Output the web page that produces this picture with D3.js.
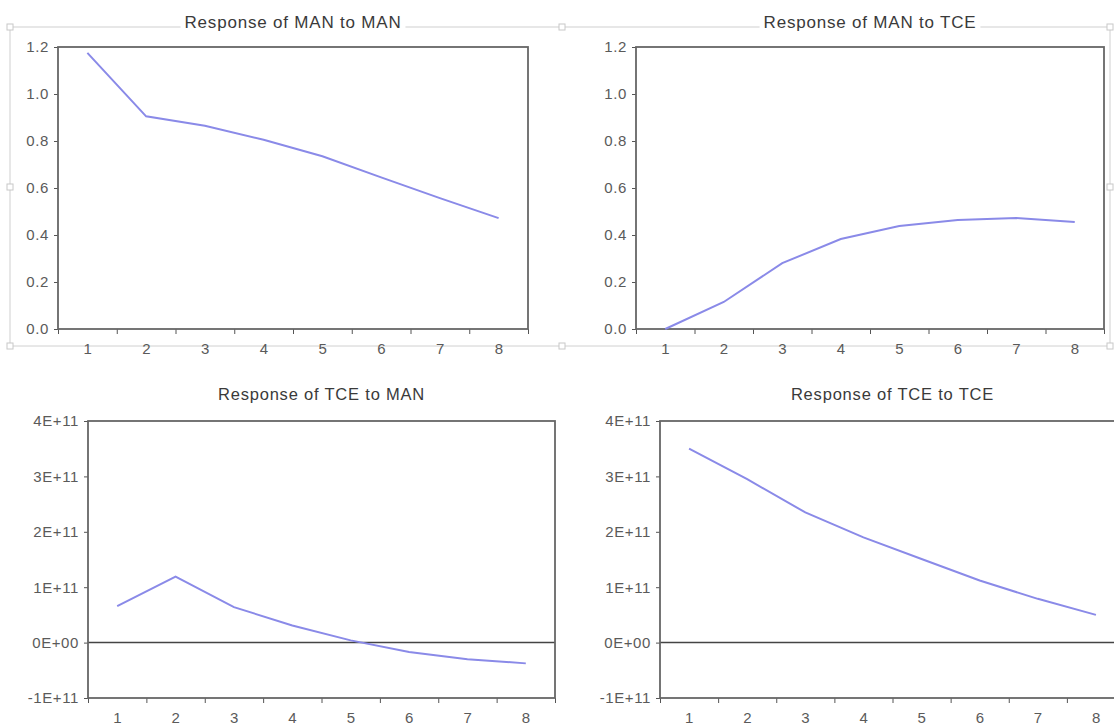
<!DOCTYPE html>
<html lang="en">
<head>
  <meta charset="UTF-8">
  <title>Impulse responses</title>
  <script src="https://cdn.jsdelivr.net/npm/d3@7"></script>
  <style>
    html, body { margin: 0; padding: 0; background: #ffffff; }
    .tick text { font-family: "Liberation Sans", Arial, sans-serif; font-size: 15px; letter-spacing: 0.6px; fill: #5a5a5a; }
    .title { font-family: "Liberation Sans", Arial, sans-serif; fill: #3a3a3a; }
  </style>
</head>
<body>
  <div class="chart"></div>

  <script type="text/javascript">
    // periods on the x axis
    const periods = [1, 2, 3, 4, 5, 6, 7, 8];

    // responses
    const manToMan = [1.175, 0.905, 0.865, 0.805, 0.735, 0.645, 0.557, 0.472];
    const manToTce = [0.0, 0.115, 0.28, 0.383, 0.438, 0.464, 0.472, 0.455];
    const tceToMan = [0.66e11, 1.19e11, 0.64e11, 0.31e11, 0.04e11, -0.17e11, -0.30e11, -0.375e11];
    const tceToTce = [3.50e11, 2.95e11, 2.35e11, 1.90e11, 1.51e11, 1.12e11, 0.79e11, 0.50e11];

    // tick labels
    const manTicks = [0, 0.2, 0.4, 0.6, 0.8, 1.0, 1.2];
    const tceTicks = [-1e11, 0, 1e11, 2e11, 3e11, 4e11];

    const titles = ["Response of MAN to MAN", "Response of MAN to TCE", "Response of TCE to MAN", "Response of TCE to TCE"];

    const svg = d3
      .select(".chart")
      .append("svg")
      .attr("width", 1114)
      .attr("height", 727);

    //outer frame with handles around the top pair
    const frame = svg.append("g");
    frame.append("rect")
      .attr("x", 10).attr("y", 27)
      .attr("width", 1100).attr("height", 319)
      .attr("fill", "none")
      .attr("stroke", "#d0d0d0")
      .attr("stroke-width", 1);
    const handles = [[10, 27], [562, 27], [1110, 27], [10, 187], [1110, 187], [10, 346], [562, 346], [1110, 346]];
    frame.selectAll(".handle")
      .data(handles)
      .enter()
      .append("rect")
      .attr("class", "handle")
      .attr("x", d => d[0] - 3)
      .attr("y", d => d[1] - 3)
      .attr("width", 6)
      .attr("height", 6)
      .attr("fill", "#fff")
      .attr("stroke", "#c8c8c8");

    const fmtMan = d3.format(".1f");
    function fmtTce(v) {
      if (v === 0) return "0E+00";
      return Math.round(v / 1e11) + "E+11";
    }

    const panels = [
      { left: 58, right: 528, top: 47, bottom: 329, titleY: 22, titleSize: 17, values: manToMan, domain: [0, 1.2], ticks: manTicks, fmt: fmtMan, zero: false },
      { left: 636, right: 1104, top: 47, bottom: 329, titleY: 22, titleSize: 17, values: manToTce, domain: [0, 1.2], ticks: manTicks, fmt: fmtMan, zero: false },
      { left: 88, right: 555, top: 421, bottom: 698, titleY: 394, titleSize: 16.5, values: tceToMan, domain: [-1e11, 4e11], ticks: tceTicks, fmt: fmtTce, zero: true },
      { left: 660, right: 1125, top: 421, bottom: 698, titleY: 394, titleSize: 16.5, values: tceToTce, domain: [-1e11, 4e11], ticks: tceTicks, fmt: fmtTce, zero: true }
    ];

    panels.forEach(function(p, i) {
      const g = svg.append("g");

      const x = d3.scaleLinear()
        .domain([0.5, periods.length + 0.5])
        .range([p.left, p.right]);
      const y = d3.scaleLinear()
        .domain(p.domain)
        .range([p.bottom, p.top]);

      //title with white backing so the outer frame line breaks
      const title = g.append("text")
        .attr("class", "title")
        .attr("x", (p.left + p.right) / 2)
        .attr("y", p.titleY)
        .attr("dy", "0.35em")
        .style("font-size", p.titleSize + "px")
        .style("letter-spacing", "0.8px")
        .style("text-anchor", "middle")
        .text(titles[i]);
      const bb = title.node().getBBox();
      g.insert("rect", "text")
        .attr("x", bb.x - 4).attr("y", bb.y)
        .attr("width", bb.width + 8).attr("height", bb.height)
        .attr("fill", "#fff");

      //y axis
      const yAxis = g.append("g")
        .attr("transform", `translate(${p.left},0)`)
        .call(d3.axisLeft(y).tickValues(p.ticks).tickSize(4).tickPadding(5).tickFormat(p.fmt));
      yAxis.select(".domain").remove();
      yAxis.selectAll("line").attr("stroke", "#555");

      //x axis tick marks between periods
      const edges = d3.range(0.5, periods.length + 1, 1);
      const xTicks = g.append("g")
        .attr("transform", `translate(0,${p.bottom})`)
        .call(d3.axisBottom(x).tickValues(edges).tickSize(5).tickFormat(""));
      xTicks.select(".domain").remove();
      xTicks.selectAll("line").attr("stroke", "#555");

      //x labels at the centre of each period
      const xLabels = g.append("g")
        .attr("transform", `translate(0,${p.bottom})`)
        .call(d3.axisBottom(x).tickValues(periods).tickSize(0).tickPadding(14).tickFormat(d3.format("d")));
      xLabels.select(".domain").remove();

      //zero line
      if (p.zero) {
        g.append("line")
          .attr("x1", p.left).attr("x2", p.right)
          .attr("y1", y(0)).attr("y2", y(0))
          .attr("stroke", "#444")
          .attr("stroke-width", 1.5);
      }

      //plot frame
      g.append("rect")
        .attr("x", p.left).attr("y", p.top)
        .attr("width", p.right - p.left)
        .attr("height", p.bottom - p.top)
        .attr("fill", "none")
        .attr("stroke", "#666")
        .attr("stroke-width", 1.8);

      //response line
      const line = d3.line()
        .x((d, k) => x(periods[k]))
        .y(d => y(d));
      g.append("path")
        .datum(p.values)
        .attr("d", line)
        .attr("fill", "none")
        .attr("stroke", "#8a8ae8")
        .attr("stroke-width", 2);
    });
  </script>
</body>
</html>
